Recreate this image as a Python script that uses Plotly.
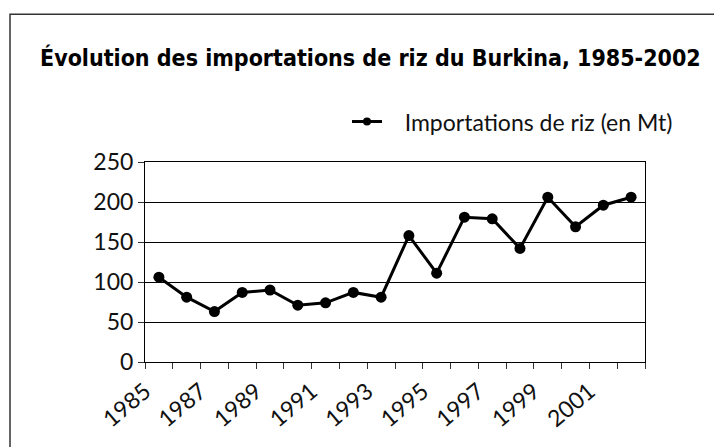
import plotly.graph_objects as go

years = [1985, 1986, 1987, 1988, 1989, 1990, 1991, 1992, 1993,
         1994, 1995, 1996, 1997, 1998, 1999, 2000, 2001, 2002]
imports = [106, 81, 63, 87, 90, 71, 74, 87, 81,
           158, 111, 181, 179, 142, 206, 169, 196, 206]
series_name = "Importations de riz (en Mt)"
title_text = "Évolution des importations de riz du Burkina, 1985-2002"
y_ticks = [0, 50, 100, 150, 200, 250]

# categories centred between tick marks
xpos = [i + 0.5 for i in range(len(years))]
tickvals = list(range(len(years) + 1))
ticktext = [str(years[k]) if (k % 2 == 0 and k < len(years) - 1) else "" for k in tickvals]

tick_font = dict(family="Lato, Noto Sans, sans-serif", size=23, color="#111")

fig = go.Figure()
fig.add_trace(go.Scatter(
    x=xpos, y=imports, mode="lines+markers", name=series_name, showlegend=False,
    line=dict(color="black", width=3),
    marker=dict(color="black", size=11, symbol="circle"),
))
# legend entry (smaller marker, as in the reference legend)
fig.add_trace(go.Scatter(
    x=[None], y=[None], mode="lines+markers", name="\u00a0\u00a0\u00a0" + series_name,
    line=dict(color="black", width=3),
    marker=dict(color="black", size=8, symbol="circle"),
))

PW, PH = 500, 199.4
fig.update_layout(
    width=714, height=439,
    margin=dict(l=137, r=77, t=154, b=85, autoexpand=False),
    paper_bgcolor="white", plot_bgcolor="white",
    showlegend=True,
    legend=dict(x=(678 - 145) / PW, xanchor="right", y=(361.7 - 122) / PH, yanchor="middle",
                orientation="h", font=dict(family="Lato, Noto Sans, sans-serif", size=23, color="#111"),
                bgcolor="rgba(0,0,0,0)", itemwidth=30),
    annotations=[dict(text="<b>" + title_text + "</b>", xref="paper", yref="paper",
                      x=(370 - 145) / PW, y=(361.7 - 58) / PH, xanchor="center", yanchor="middle",
                      showarrow=False,
                      font=dict(family="Liberation Sans Narrow, DejaVu Sans Condensed, sans-serif",
                                size=23, color="black"))],
    shapes=[dict(type="rect", xref="paper", yref="paper",
                 x0=(10 - 145) / PW, x1=1.4, y0=-0.8, y1=(361.7 - 15) / PH,
                 line=dict(color="#333", width=1.5), layer="below")],
)

fig.update_xaxes(range=[0, len(years)], tickmode="array", tickvals=tickvals, ticktext=ticktext,
                 tickangle=-40, ticks="outside", ticklen=6, tickcolor="#333", tickwidth=1,
                 showline=True, linecolor="black", linewidth=1, mirror=True,
                 showgrid=False, zeroline=False, tickfont=tick_font)
fig.update_yaxes(range=[0, 250], tickmode="array", tickvals=y_ticks,
                 ticks="outside", ticklen=6, tickcolor="#333", tickwidth=1,
                 showline=True, linecolor="black", linewidth=1, mirror=True,
                 showgrid=True, gridcolor="black", gridwidth=1, zeroline=False,
                 tickfont=tick_font)

fig.write_html("out.html")
